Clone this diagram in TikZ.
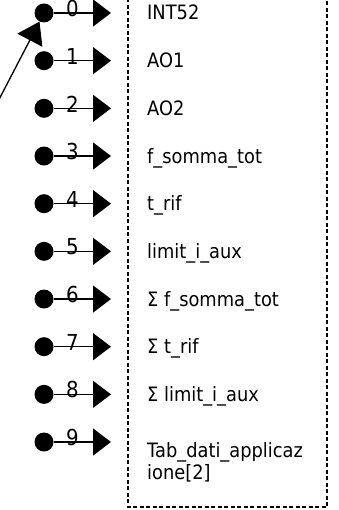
\documentclass[tikz,border=0pt]{standalone}
\usepackage{fontspec}
\setmainfont[FakeStretch=0.9]{DejaVu Sans}
\usetikzlibrary{arrows.meta}
\tikzset{
  pin/.style={circle, fill=black, draw=none, minimum size=19pt, inner sep=0pt},
  wire/.style={line width=1.3pt, -{Triangle[length=18pt,width=27pt]}},
  feed/.style={line width=1.3pt, -{Triangle[length=21pt,width=28pt]}},
  idx/.style={inner sep=0pt, font=\fontsize{22}{22}\selectfont},
  var/.style={anchor=base west, inner sep=0pt, align=left,
              font=\fontsize{19.8}{22}\selectfont},
  frame/.style={line width=2.4pt, dash pattern=on 4pt off 2.5pt}
}
\begin{document}
\begin{tikzpicture}[x=1pt,y=1pt]
\useasboundingbox (0,0) rectangle (338,-510);
% dashed frame holding the variable names
\draw[frame] (128,8) -- (128,-507) -- (327,-507) -- (327,8);
% one row per output index
\foreach \i/\txt in {0/INT52,1/AO1,2/AO2,3/f\_somma\_tot,4/t\_rif,5/limit\_i\_aux,
                     6/Σ f\_somma\_tot,7/Σ t\_rif,8/Σ limit\_i\_aux}{
  \pgfmathsetmacro{\yy}{-(13+47.67*\i)}
  \node[pin] (c\i) at (44,\yy) {};
  \coordinate (t\i) at (111,\yy);
  \draw[wire] (c\i) -- (t\i);
  \node[idx] (l\i) at (72.5,\yy+4.5) {\i};
  \node[var] (v\i) at (147,\yy-7) {\txt};
}
% last row: two-line name
\node[pin] (c9) at (44,-442) {};
\coordinate (t9) at (111,-442);
\draw[wire] (c9) -- (t9);
\node[idx] (l9) at (72.5,-437.5) {9};
\node[var] (v9) at (147,-479) {Tab\_dati\_applicaz\\ione[2]};
% incoming link to the first pin
\coordinate (src) at (-20,-136);
\draw[feed] (src) -- (c0);
\end{tikzpicture}
\end{document}
